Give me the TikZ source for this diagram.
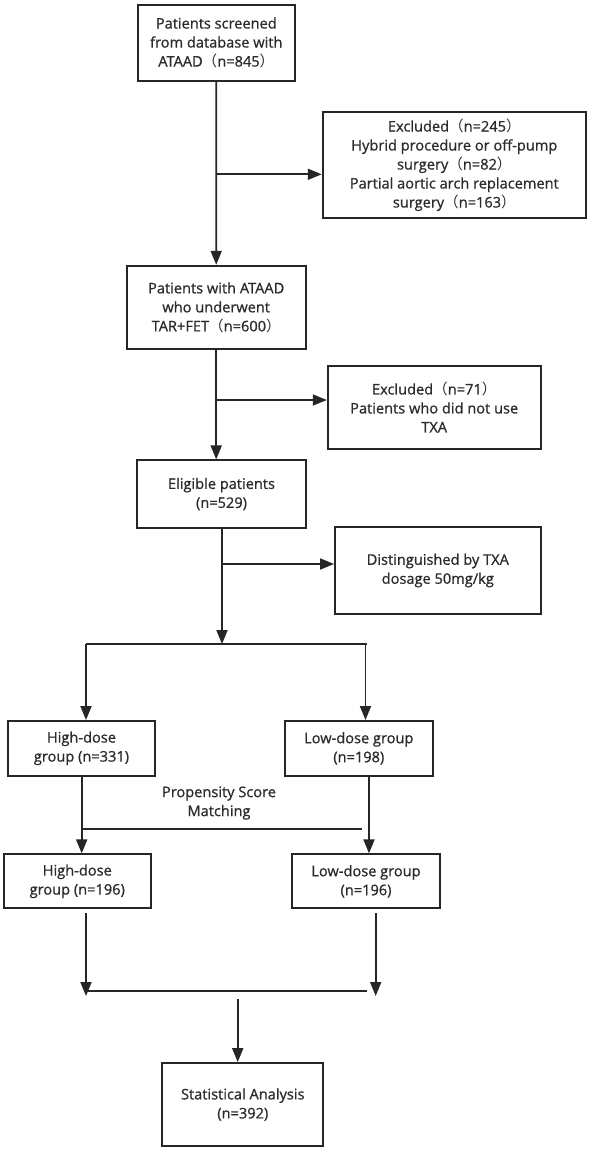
\documentclass[tikz,border=0pt]{standalone}
\usepackage{fontspec}
\setmainfont{Open Sans}[FakeBold=0.8]
\newfontfamily\cjk{Noto Sans CJK SC}
\usetikzlibrary{arrows.meta}
\newcommand{\lp}{{\cjk （}}
\newcommand{\rp}{{\cjk ）}}
\definecolor{ink}{HTML}{262626}
\definecolor{txt}{HTML}{2B2B2B}
\tikzset{
  box/.style={draw=ink, line width=1.8pt, rectangle, align=center, inner sep=2pt,
    font=\fontsize{14.6}{19}\selectfont, text=txt},
  line/.style={draw=ink, line width=1.8pt},
  arr/.style={line, -{Triangle[length=14pt,width=11pt]}},
}
\begin{document}
\begin{tikzpicture}[x=1pt,y=-1pt]
\useasboundingbox[fill=white] (0,0) rectangle (594,1152);
\node[box, minimum width=157.3pt, minimum height=76pt] (box1) at (216.3,42.7)
  {Patients screened\\from database with\\ATAAD\lp n=845\rp};
\node[box, minimum width=263.3pt, minimum height=106.6pt] (excl1) at (454.3,165)
  {Excluded\lp n=245\rp\\Hybrid procedure or off-pump\\surgery\lp n=82\rp\\Partial aortic arch replacement\\surgery\lp n=163\rp};
\node[box, minimum width=179pt, minimum height=83.6pt] (box2) at (216.2,307.5)
  {Patients with ATAAD\\who underwent\\TAR+FET\lp n=600\rp};
\node[box, minimum width=213pt, minimum height=83pt] (excl2) at (434.2,407.2)
  {Excluded\lp n=71\rp\\Patients who did not use\\TXA};
\node[box, minimum width=168.4pt, minimum height=67.4pt] (box3) at (221.5,494)
  {Eligible patients\\(n=529)};
\node[box, minimum width=205.7pt, minimum height=87pt] (dist) at (437.8,570.5)
  {Distinguished by TXA\\dosage 50mg/kg};
\node[box, minimum width=147pt, minimum height=54.7pt] (high1) at (81.5,748.3)
  {High-dose\\group (n=331)};
\node[box, minimum width=147.7pt, minimum height=54.7pt] (low1) at (358.8,748.3)
  {Low-dose group\\(n=198)};
\node[box, minimum width=147.3pt, minimum height=54pt] (high2) at (77.3,881.3)
  {High-dose\\group (n=196)};
\node[box, minimum width=147.4pt, minimum height=54pt] (low2) at (366,881.3)
  {Low-dose group\\(n=196)};
\node[box, minimum width=161pt, minimum height=83pt] (stat) at (242.8,1104.5)
  {Statistical Analysis\\(n=392)};
\node[align=center, font=\fontsize{14.6}{19}\selectfont, text=txt] (psm) at (219,803)
  {Propensity Score\\Matching};

% main spine
\draw[arr] (box1.south) -- (box2.north);
\coordinate (b1) at (216.3,174.3);
\draw[arr] (b1) -- (b1 -| excl1.west);
\draw[arr] (box2.south) -- (box2.south |- box3.north);
\coordinate (b2) at (216.3,400);
\draw[arr] (b2) -- (b2 -| excl2.west);
\coordinate (b3top) at (222,527.7);
\coordinate (split) at (222,644);
\draw[arr] (b3top) -- (split);
\coordinate (b3) at (222,564);
\draw[arr] (b3) -- (b3 -| dist.west);
% split
\coordinate (sl) at (86,644);
\coordinate (sr) at (365.5,644);
\draw[line] (sl) -- (366.7,644);
\draw[arr] (sl) -- (sl |- high1.north);
\draw[arr] (sr) -- (sr |- low1.north);
% high1 -> high2, low1 -> low2
\coordinate (h1b) at (81.7,775.7);
\coordinate (l1b) at (369,775.7);
\draw[arr] (h1b) -- (h1b |- high2.north);
\draw[arr] (l1b) -- (l1b |- low2.north);
\coordinate (pl) at (83,828.7);
\coordinate (pr) at (362.3,828.7);
\draw[line] (pl) -- (pr);
% merge
\coordinate (h2s) at (86,913.3);
\coordinate (l2s) at (375.7,913.3);
\coordinate (h2e) at (86,996);
\coordinate (l2e) at (375.7,996);
\draw[arr] (h2s) -- (h2e);
\draw[arr] (l2s) -- (l2e);
\draw[line] (86,990.7) coordinate (ml) -- (366.7,990.7) coordinate (mr);
\coordinate (ms) at (237.7,999);
\draw[arr] (ms) -- (ms |- stat.north);
\end{tikzpicture}
\end{document}
